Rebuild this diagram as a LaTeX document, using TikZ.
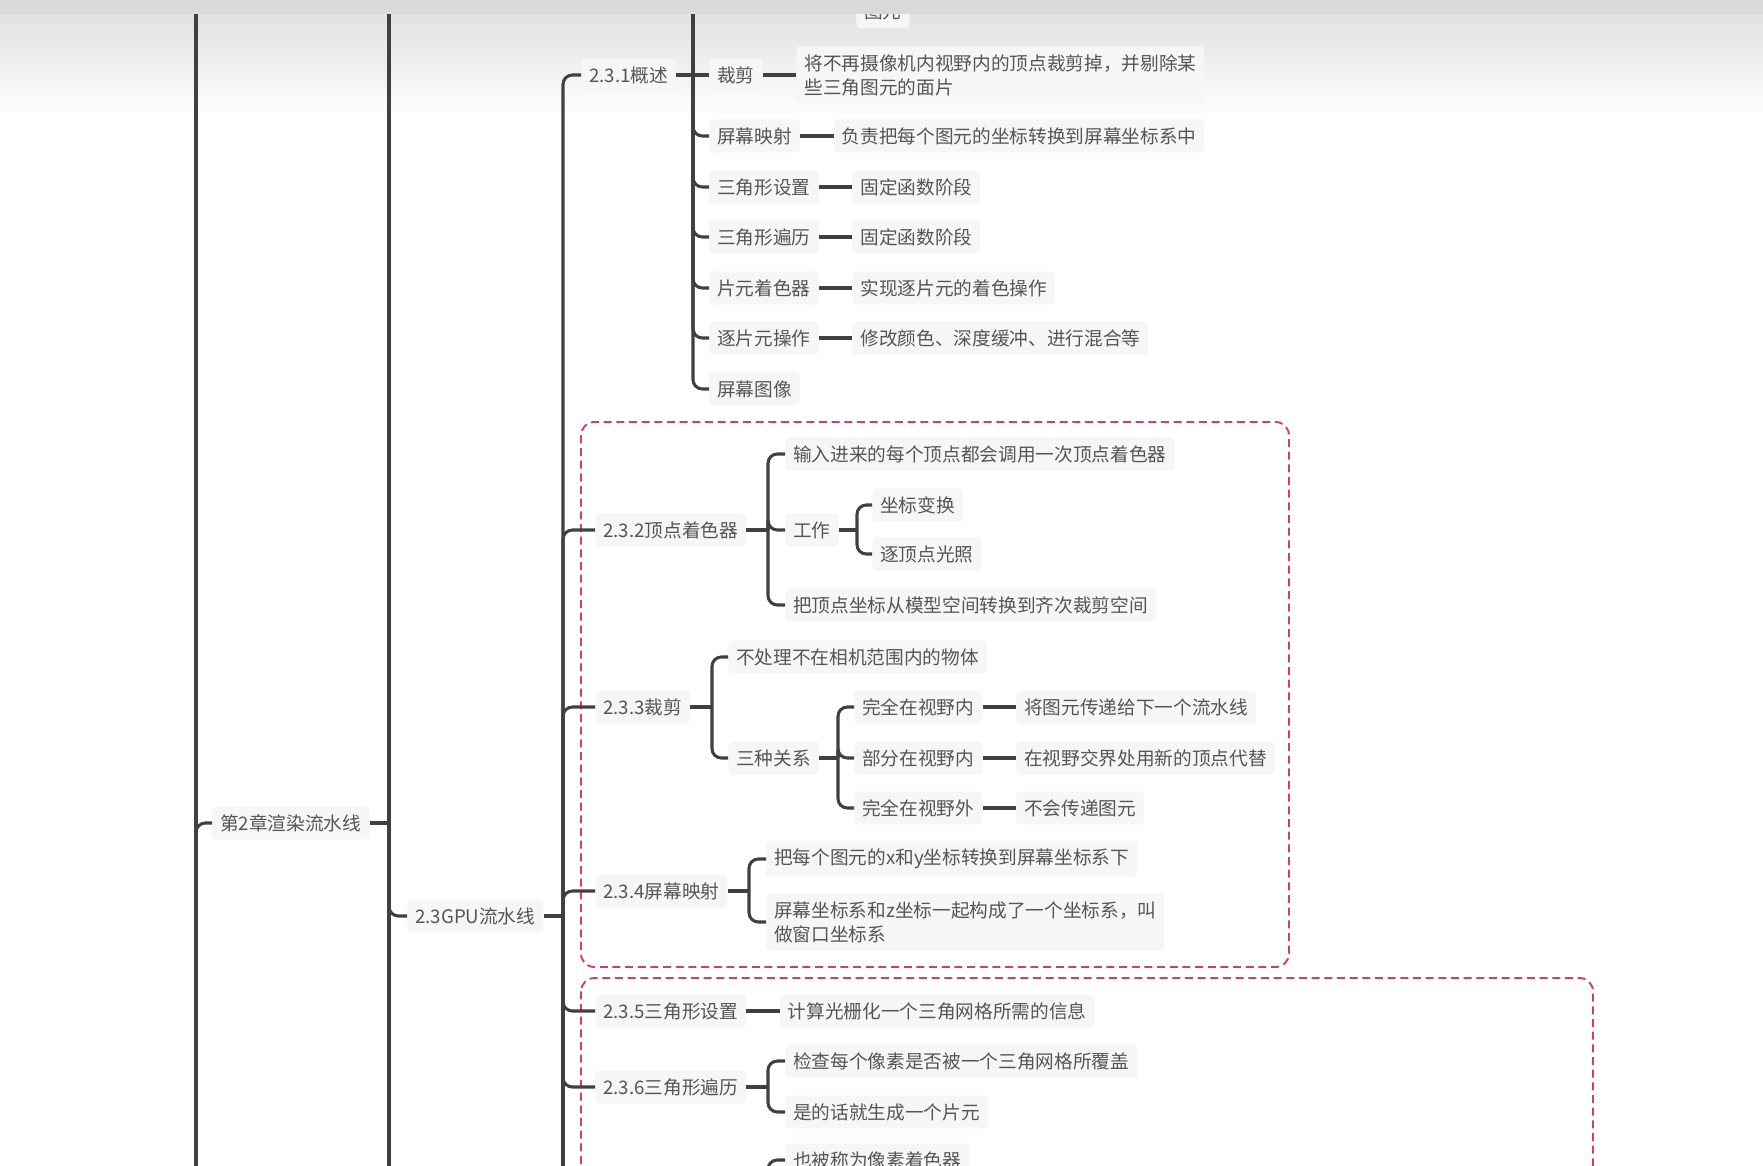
\documentclass[tikz,border=0pt]{standalone}
\usepackage{fontspec}
\setmainfont{Noto Sans CJK SC}
\usetikzlibrary{positioning}
\definecolor{mmline}{RGB}{64,64,64}
\definecolor{mmtext}{RGB}{85,85,85}
\definecolor{mmfill}{RGB}{246,246,246}
\definecolor{mmred}{RGB}{212,62,96}
\definecolor{mmbar}{RGB}{217,217,217}
\definecolor{mmtop}{RGB}{225,225,225}

\begin{document}
\begin{tikzpicture}[x=0.75pt, y=-0.75pt, font=\fontsize{14}{18}\selectfont,
  t/.style={fill=mmfill, text=mmtext, rounded corners=3pt, inner xsep=6pt,
            inner ysep=6pt, anchor=west, align=left},
  d/.style={t, right=25pt of #1},
  link/.style={mmline, line width=2.3pt, rounded corners=7pt},
  stub/.style={mmline, line width=3.4pt},
  grp/.style={mmred, line width=1.4pt, dash pattern=on 6pt off 3.5pt,
              rounded corners=10pt}]
\useasboundingbox (0,0) rectangle (1763,1166);
\clip (0,0) rectangle (1763,1166);
\shade[top color=mmtop, bottom color=white] (0,13) rectangle (1763,118);
% trunks
\coordinate (t1) at (196,0);
\coordinate (t2) at (389,0);
\coordinate (t3) at (563,0);
\coordinate (t4) at (693,0);
\coordinate (t5) at (768,0);
\coordinate (t6) at (857,0);
\coordinate (t7) at (712,0);
\coordinate (t8) at (838,0);
\coordinate (t9) at (749,0);
% groups
\draw[grp] (581,422) rectangle (1289,967);
\draw[grp] (581,978) rectangle (1593,1250);
% nodes
\node[t] (ch2)  at (212,823) {第2章渲染流水线};
\node[t] (gpu)  at (407,916) {2.3GPU流水线};
\node[t] (s231) at (581,75)  {2.3.1概述};
\node[t] (crop) at (709,75)  {裁剪};
\node[d=crop] (cropd) {将不再摄像机内视野内的顶点裁剪掉，并剔除某\\些三角图元的面片};
\node[t] (scr)  at (709,136) {屏幕映射};
\node[d=scr] (scrd) {负责把每个图元的坐标转换到屏幕坐标系中};
\node[t] (tset) at (709,187) {三角形设置};
\node[d=tset] (tsetd) {固定函数阶段};
\node[t] (ttra) at (709,237) {三角形遍历};
\node[d=ttra] (ttrad) {固定函数阶段};
\node[t] (frag) at (709,288) {片元着色器};
\node[d=frag] (fragd) {实现逐片元的着色操作};
\node[t] (perf) at (709,338) {逐片元操作};
\node[d=perf] (perfd) {修改颜色、深度缓冲、进行混合等};
\node[t] (img)  at (709,389) {屏幕图像};
\node[t] (topd) at (856,12)  {图元};
\node[t] (s232) at (595,530) {2.3.2顶点着色器};
\node[t] (vin)  at (785,454) {输入进来的每个顶点都会调用一次顶点着色器};
\node[t] (work) at (785,530) {工作};
\node[t] (xfm)  at (872,505) {坐标变换};
\node[t] (lit)  at (872,554) {逐顶点光照};
\node[t] (vmod) at (785,605) {把顶点坐标从模型空间转换到齐次裁剪空间};
\node[t] (s233) at (595,707) {2.3.3裁剪};
\node[t] (cnot) at (728,657) {不处理不在相机范围内的物体};
\node[t] (rel)  at (728,758) {三种关系};
\node[t] (rin)  at (854,707) {完全在视野内};
\node[d=rin] (rind) {将图元传递给下一个流水线};
\node[t] (rpart) at (854,758) {部分在视野内};
\node[d=rpart] (rpartd) {在视野交界处用新的顶点代替};
\node[t] (rout) at (854,808) {完全在视野外};
\node[d=rout] (routd) {不会传递图元};
\node[t] (s234) at (595,891) {2.3.4屏幕映射};
\node[t] (mxy)  at (766,859) {把每个图元的x和y坐标转换到屏幕坐标系下};
\node[t] (mwin) at (766,922) {屏幕坐标系和z坐标一起构成了一个坐标系，叫\\做窗口坐标系};
\node[t] (s235) at (595,1011) {2.3.5三角形设置};
\node[d=s235] (s235d) {计算光栅化一个三角网格所需的信息};
\node[t] (s236) at (595,1087) {2.3.6三角形遍历};
\node[t] (tcov) at (785,1061) {检查每个像素是否被一个三角网格所覆盖};
\node[t] (tgen) at (785,1112) {是的话就生成一个片元};
\node[t] (pxsh) at (785,1160) {也被称为像素着色器};
% off-screen ends
\coordinate (up1) at (196,-20);
\coordinate (dn1) at (196,1250);
\coordinate (up2) at (389,-20);
\coordinate (dn2) at (389,1250);
\coordinate (dn3) at (563,1250);
\coordinate (up4) at (693,-20);
\coordinate (dn11) at (768,1250);
% level 1 and 2
\draw[link] (up1) -- (dn1);
\draw[link] (dn1) |- (ch2.west);
\draw[stub] (ch2.east) -- (t2 |- ch2.east);
\draw[link] (up2) -- (dn2);
\draw[link] (t2 |- ch2.east) |- (gpu.west);
\draw[stub] (gpu.east) -- (t3 |- gpu.east);
% 2.3
\draw[link] (t3 |- gpu.east) |- (s231.west);
\draw[link] (t3 |- gpu.east) |- (s232.west);
\draw[link] (t3 |- gpu.east) |- (s233.west);
\draw[link] (t3 |- gpu.east) |- (s234.west);
\draw[link] (t3 |- gpu.east) |- (s235.west);
\draw[link] (t3 |- gpu.east) |- (s236.west);
\draw[link] (t3 |- gpu.east) -- (dn3);
% 2.3.1
\draw[stub] (s231.east) -- (crop.west);
\draw[link] (up4) -- (t4 |- s231.east);
\draw[link] (t4 |- s231.east) |- (scr.west);
\draw[link] (t4 |- s231.east) |- (tset.west);
\draw[link] (t4 |- s231.east) |- (ttra.west);
\draw[link] (t4 |- s231.east) |- (frag.west);
\draw[link] (t4 |- s231.east) |- (perf.west);
\draw[link] (t4 |- s231.east) |- (img.west);
\draw[stub] (crop.east) -- (cropd.west);
\draw[stub] (scr.east) -- (scrd.west);
\draw[stub] (tset.east) -- (tsetd.west);
\draw[stub] (ttra.east) -- (ttrad.west);
\draw[stub] (frag.east) -- (fragd.west);
\draw[stub] (perf.east) -- (perfd.west);
% 2.3.2
\draw[stub] (s232.east) -- (t5 |- s232.east);
\draw[link] (t5 |- s232.east) |- (vin.west);
\draw[link] (t5 |- s232.east) |- (work.west);
\draw[link] (t5 |- s232.east) |- (vmod.west);
\draw[stub] (work.east) -- (t6 |- work.east);
\draw[link] (t6 |- work.east) |- (xfm.west);
\draw[link] (t6 |- work.east) |- (lit.west);
% 2.3.3
\draw[stub] (s233.east) -- (t7 |- s233.east);
\draw[link] (t7 |- s233.east) |- (cnot.west);
\draw[link] (t7 |- s233.east) |- (rel.west);
\draw[stub] (rel.east) -- (t8 |- rel.east);
\draw[link] (t8 |- rel.east) |- (rin.west);
\draw[link] (t8 |- rel.east) |- (rpart.west);
\draw[link] (t8 |- rel.east) |- (rout.west);
\draw[stub] (rin.east) -- (rind.west);
\draw[stub] (rpart.east) -- (rpartd.west);
\draw[stub] (rout.east) -- (routd.west);
% 2.3.4
\draw[stub] (s234.east) -- (t9 |- s234.east);
\draw[link] (t9 |- s234.east) |- (mxy.west);
\draw[link] (t9 |- s234.east) |- (mwin.west);
% 2.3.5 / 2.3.6
\draw[stub] (s235.east) -- (s235d.west);
\draw[stub] (s236.east) -- (t5 |- s236.east);
\draw[link] (t5 |- s236.east) |- (tcov.west);
\draw[link] (t5 |- s236.east) |- (tgen.west);
\draw[link] (dn11) |- (pxsh.west);
% toolbar
\fill[mmbar] (0,0) rectangle (1763,13);
\draw[black!15, line width=0.8pt] (0,13) -- (1763,13);
\end{tikzpicture}
\end{document}
